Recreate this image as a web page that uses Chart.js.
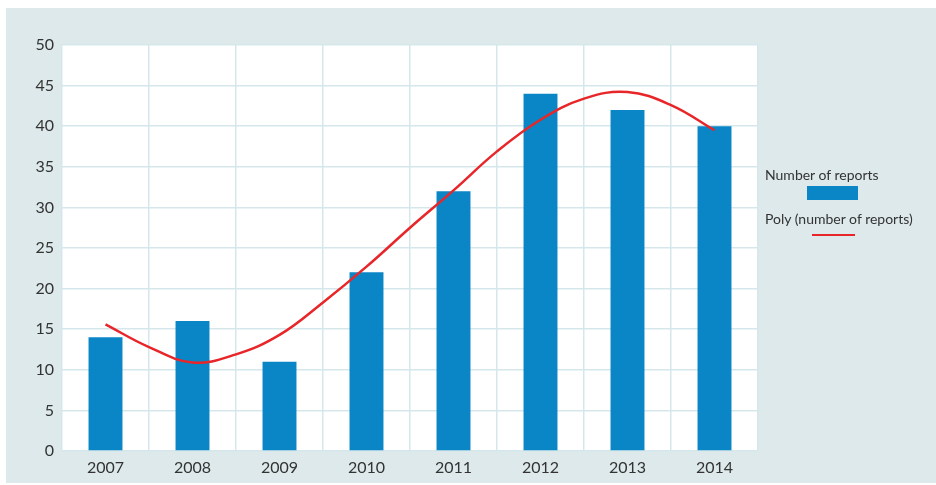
<!DOCTYPE html>
<html>
<head>
<meta charset="utf-8">
<script src="https://cdn.jsdelivr.net/npm/chart.js@4/dist/chart.umd.min.js"></script>
<style>
  html, body { margin: 0; padding: 0; background: #ffffff; }
  #wrap { position: relative; width: 936px; height: 485px; }
  canvas { position: absolute; left: 0; top: 0; }
  .lg { position: absolute; font-family: Lato, "Open Sans", sans-serif; font-size: 14px; color: #333; white-space: nowrap; }
  .sw { position: absolute; }
</style>
</head>
<body>
<div id="wrap">
  <canvas id="c" width="936" height="485"></canvas>
  <div class="lg" style="left:765px; top:166px;">Number of reports</div>
  <div class="sw" style="left:807px; top:186px; width:51px; height:14px; background:#0a86c6;"></div>
  <div class="lg" style="left:765px; top:210px;">Poly (number of reports)</div>
  <div class="sw" style="left:812px; top:234px; width:43px; height:2px; background:#e8262a;"></div>
</div>
<script>
const years = ['2007', '2008', '2009', '2010', '2011', '2012', '2013', '2014'];
const reports = [14, 16, 11, 22, 32, 44, 42, 40];
// trend line at every half category (0 = 2007 ... 7 = 2014)
const polyX = [0, 0.5, 1, 1.5, 2, 2.5, 3, 3.5, 4, 4.5, 5, 5.5, 6, 6.5, 7];
const polyY = [15.6, 12.8, 10.9, 11.9, 14.3, 18.3, 22.7, 27.5, 32.1, 36.9, 40.8, 43.4, 44.2, 42.6, 39.5];
const yTicks = [0, 5, 10, 15, 20, 25, 30, 35, 40, 45, 50];

const bgPlugin = {
  id: 'bg',
  beforeDraw(chart) {
    const ctx = chart.ctx;
    const a = chart.chartArea;
    ctx.save();
    ctx.fillStyle = '#ffffff';
    ctx.fillRect(0, 0, chart.width, chart.height);
    ctx.fillStyle = '#dde9ea';
    ctx.fillRect(6, 8, chart.width - 6, chart.height - 10);
    ctx.fillStyle = '#ffffff';
    ctx.fillRect(a.left, a.top, a.right - a.left, a.bottom - a.top);
    ctx.restore();
  }
};

new Chart(document.getElementById('c'), {
  data: {
    labels: years,
    datasets: [
      {
        type: 'line',
        label: 'Poly (number of reports)',
        data: polyX.map((x, i) => ({ x: x, y: polyY[i] })),
        xAxisID: 'xLine',
        borderColor: '#e8262a',
        borderWidth: 2.5,
        pointRadius: 0,
        tension: 0.4,
        fill: false,
        order: 0
      },
      {
        type: 'bar',
        label: 'Number of reports',
        data: reports,
        xAxisID: 'x',
        backgroundColor: '#0a86c6',
        borderWidth: 0,
        grouped: false,
        barPercentage: 0.39,
        categoryPercentage: 1.0,
        order: 1
      }
    ]
  },
  options: {
    responsive: false,
    animation: false,
    devicePixelRatio: 1,
    layout: { padding: { left: 0, top: 45, right: 178, bottom: 0 } },
    plugins: { legend: { display: false }, tooltip: { enabled: false } },
    scales: {
      x: {
        type: 'category',
        grid: { color: '#d6e7ec', lineWidth: 1.5, drawTicks: false },
        border: { display: false },
        ticks: { color: '#333', font: { family: 'Lato', size: 16 }, padding: 7 },
        afterFit(s) { s.height = 34; }
      },
      xLine: {
        type: 'linear',
        display: false,
        min: -0.5,
        max: 7.5
      },
      y: {
        min: 0, max: 50,
        afterBuildTicks(s) { s.ticks = yTicks.map(v => ({ value: v })); },
        grid: { color: '#d6e7ec', lineWidth: 1.5, drawTicks: false },
        border: { display: false },
        ticks: { color: '#333', font: { family: 'Lato', size: 16 }, padding: 8 },
        afterFit(s) { s.width = 62; }
      }
    }
  },
  plugins: [bgPlugin]
});
</script>
</body>
</html>
